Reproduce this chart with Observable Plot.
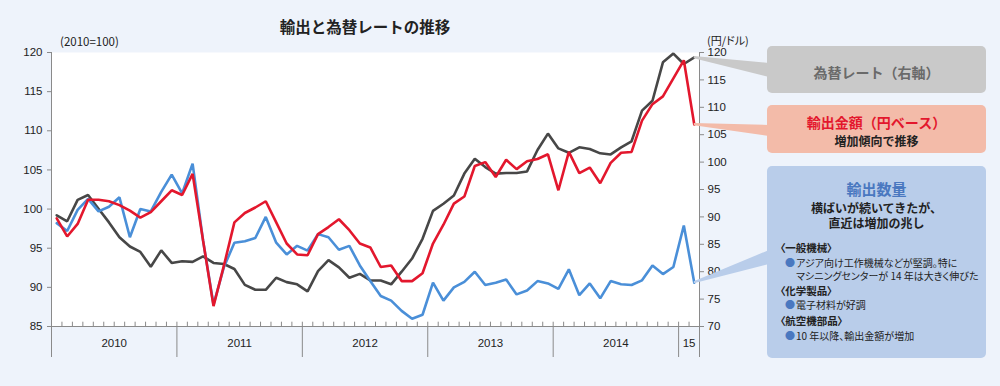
<!DOCTYPE html>
<html>
<head>
<meta charset="utf-8">
<script src="https://cdn.jsdelivr.net/npm/d3@7"></script>
<script src="https://cdn.jsdelivr.net/npm/@observablehq/plot@0.6"></script>
<style>
  html, body { margin: 0; padding: 0; background: #eef3fb; }
  #wrap { position: relative; width: 1000px; height: 386px; overflow: hidden; background: #eef3fb;
          font-family: "Noto Sans CJK JP", "Liberation Sans", sans-serif; color: #222; }
  #wrap > svg { position: absolute; left: 0; top: 0; }
  .t { position: absolute; white-space: nowrap; line-height: 1; }
  .box { position: absolute; border-radius: 5px; }
</style>
</head>
<body>
<div id="wrap"></div>
<script>
// ---- data ----
const months = [
  "2010-01","2010-02","2010-03","2010-04","2010-05","2010-06","2010-07","2010-08","2010-09","2010-10","2010-11","2010-12",
  "2011-01","2011-02","2011-03","2011-04","2011-05","2011-06","2011-07","2011-08","2011-09","2011-10","2011-11","2011-12",
  "2012-01","2012-02","2012-03","2012-04","2012-05","2012-06","2012-07","2012-08","2012-09","2012-10","2012-11","2012-12",
  "2013-01","2013-02","2013-03","2013-04","2013-05","2013-06","2013-07","2013-08","2013-09","2013-10","2013-11","2013-12",
  "2014-01","2014-02","2014-03","2014-04","2014-05","2014-06","2014-07","2014-08","2014-09","2014-10","2014-11","2014-12",
  "2015-01","2015-02"
];
// 輸出数量 (2010=100, left axis)
const exportVolume = [
  98.2, 97.2, 99.9, 101.3, 99.7, 100.3, 101.5, 96.4, 100.0, 99.7, 102.2, 104.4,
  102.0, 105.8, 96.0, 87.8, 92.6, 95.7, 95.9, 96.3, 99.0, 95.7, 94.2, 95.3,
  94.7, 96.8, 96.4, 94.8, 95.3, 92.8, 90.8, 88.9, 88.3, 87.0, 86.0, 86.5,
  90.6, 88.3, 90.0, 90.7, 92.0, 90.3, 90.6, 91.0, 89.1, 89.6, 90.8, 90.5,
  89.8, 92.3, 89.0, 90.5, 88.6, 90.8, 90.4, 90.3, 90.9, 92.8, 91.7, 92.6,
  97.9, 90.6
];
// 輸出金額（円ベース） (2010=100, left axis)
const exportValue = [
  98.8, 96.5, 98.1, 101.2, 101.2, 101.0, 100.5, 99.8, 98.9, 99.6, 101.0, 102.4,
  101.8, 104.5, 96.0, 87.6, 92.8, 98.3, 99.5, 100.2, 101.0, 98.3, 95.6, 94.2,
  94.1, 96.8, 97.7, 98.7, 97.3, 95.6, 95.1, 92.6, 92.8, 90.8, 90.8, 91.8,
  95.6, 98.0, 100.7, 101.6, 105.5, 106.0, 104.1, 106.3, 105.1, 106.1, 106.4, 107.0,
  102.4, 107.3, 104.6, 105.3, 103.3, 105.9, 107.2, 107.3, 111.3, 113.4, 114.4, 116.7,
  119.0, 110.8
];
// 為替レート (円/ドル, right axis)
const fxRate = [
  90.3, 89.2, 93.1, 94.0, 91.5, 89.0, 86.3, 84.6, 83.6, 80.9, 83.9, 81.6,
  81.9, 81.8, 82.8, 81.6, 81.4, 80.5, 77.6, 76.7, 76.7, 78.9, 78.1, 77.7,
  76.4, 80.1, 82.1, 80.8, 78.9, 79.6, 78.4, 78.4, 77.7, 80.0, 82.4, 86.0,
  91.1, 92.4, 93.9, 97.9, 100.6, 99.1, 97.9, 98.0, 98.0, 98.3, 102.2, 105.2,
  102.5, 101.7, 102.7, 102.4, 101.6, 101.4, 102.7, 103.8, 109.4, 111.2, 118.2, 119.8,
  117.9, 119.1
];
const yearLabels = ["2010", "2011", "2012", "2013", "2014", "15"];
const yearStarts = [0, 12, 24, 36, 48, 60];
const leftTicks = [85, 90, 95, 100, 105, 110, 115, 120];
const rightTicks = [70, 75, 80, 85, 90, 95, 100, 105, 110, 115, 120];

// right axis (70–120) mapped onto left scale (85–120)
const toLeft = r => 85 + (r - 70) * 0.7;
const toRight = v => (v - 85) / 0.7 + 70;

const rows = months.map((m, i) => ({i: i + 0.5, month: m, vol: exportVolume[i], val: exportValue[i], fx: fxRate[i]}));
const nMonths = months.length;
const yearBounds = [...yearStarts, nMonths];
const yearCenters = yearStarts.map((s, k) => (s + yearBounds[k + 1]) / 2);
const monthTicks = d3.range(1, nMonths);

const axisGray = "#8a8a8a";
const cBlue = "#4a8fd8", cRed = "#e3172d", cBlack = "#474747";

const plot = Plot.plot({
  width: 1000, height: 386,
  marginLeft: 51, marginRight: 301, marginTop: 52, marginBottom: 60,
  style: {background: "transparent", fontFamily: "'Liberation Sans', Arial, sans-serif", fontSize: "11.5px", color: "#222", overflow: "visible"},
  x: {domain: [0, nMonths], label: null},
  y: {domain: [85, 120], label: null},
  marks: [
    Plot.frame({fill: "white", stroke: null}),
    Plot.ruleX(monthTicks, {x: d => d, y1: 85, y2: 85.55, stroke: axisGray}),
    Plot.axisX(yearBounds, {tickSize: 31, tickFormat: () => "", stroke: axisGray, label: null}),
    Plot.axisX(yearCenters, {tickSize: 0, tickPadding: 12, tickFormat: d => yearLabels[yearCenters.indexOf(d)], fill: "#222", label: null}),
    Plot.axisY(leftTicks, {anchor: "left", tickSize: 4, tickPadding: 5, stroke: axisGray, fill: "#222", label: null}),
    Plot.axisY(rightTicks.map(toLeft), {anchor: "right", tickSize: 4, tickPadding: 4, tickFormat: d => String(Math.round(toRight(d))), stroke: axisGray, fill: "#222", label: null}),
    Plot.ruleX([0, nMonths], {stroke: axisGray}),
    Plot.ruleY([85], {stroke: axisGray}),
    Plot.line(rows, {x: "i", y: d => toLeft(d.fx), stroke: cBlack, strokeWidth: 2.6, strokeLinejoin: "miter"}),
    Plot.line(rows, {x: "i", y: "vol", stroke: cBlue, strokeWidth: 2.6, strokeLinejoin: "miter"}),
    Plot.line(rows, {x: "i", y: "val", stroke: cRed, strokeWidth: 2.6, strokeLinejoin: "miter"})
  ]
});

const wrap = document.getElementById("wrap");
wrap.appendChild(plot);

// ---- callouts ----
const xs = plot.scale("x"), ys = plot.scale("y");
const last = rows[rows.length - 1];
const tipX = xs.apply(last.i);
const boxX = 767, boxW = 219;

const ns = "http://www.w3.org/2000/svg";
const over = document.createElementNS(ns, "svg");
over.setAttribute("width", 1000); over.setAttribute("height", 386);
wrap.appendChild(over);
function wedge(ty, b1, b2, fill) {
  const p = document.createElementNS(ns, "polygon");
  p.setAttribute("points", `${tipX},${ty - 1} ${boxX + 2},${b1} ${boxX + 2},${b2} ${tipX},${ty + 1.2}`);
  p.setAttribute("fill", fill);
  over.appendChild(p);
}
const cGrayBox = "#c9c9c9", cPinkBox = "#f3bba9", cBlueBox = "#b9cdea";
wedge(ys.apply(toLeft(last.fx)), 63, 77, cGrayBox);
wedge(ys.apply(last.val), 125, 136, cPinkBox);
wedge(ys.apply(last.vol), 250, 264, cBlueBox);

function box(top, h, bg) {
  const d = document.createElement("div");
  d.className = "box";
  Object.assign(d.style, {left: boxX + "px", top: top + "px", width: boxW + "px", height: h + "px", background: bg});
  wrap.appendChild(d);
}
box(46, 47, cGrayBox);
box(105, 48, cPinkBox);
box(166, 192, cBlueBox);

function text(str, {x, cy, size, weight = "normal", color = "#222", anchor = "start", palt = false}) {
  const d = document.createElement("div");
  d.className = "t";
  d.textContent = str;
  Object.assign(d.style, {top: (cy - size / 2) + "px", fontSize: size + "px", fontWeight: weight, color});
  if (palt) d.style.fontFeatureSettings = '"palt"';
  if (anchor === "middle") { d.style.left = (x - 300) + "px"; d.style.width = "600px"; d.style.textAlign = "center"; }
  else d.style.left = x + "px";
  wrap.appendChild(d);
}
const cx = boxX + boxW / 2;
text("輸出と為替レートの推移", {x: 365, cy: 27, size: 15.5, weight: "bold", anchor: "middle"});
text("(2010=100)", {x: 60, cy: 42, size: 11.5, palt: true});
text("(円/ドル)", {x: 707, cy: 40, size: 11, palt: true});

text("為替レート（右軸）", {x: cx, cy: 71.5, size: 14, weight: "bold", color: "#6a6a6a", anchor: "middle"});
text("輸出金額（円ベース）", {x: cx, cy: 121.5, size: 14, weight: "bold", color: cRed, anchor: "middle"});
text("増加傾向で推移", {x: cx, cy: 141, size: 12, weight: "bold", anchor: "middle"});

text("輸出数量", {x: cx, cy: 188, size: 15, weight: "bold", color: "#4a78c0", anchor: "middle"});
text("横ばいが続いてきたが、", {x: cx, cy: 208, size: 12, weight: "bold", anchor: "middle"});
text("直近は増加の兆し", {x: cx, cy: 223, size: 12, weight: "bold", anchor: "middle"});

const cBullet = "#4a78c0";
function item(str, cy) {
  text("●", {x: 785, cy, size: 10, color: cBullet});
  text(str, {x: 796, cy, size: 10, palt: true});
}
text("〈一般機械〉", {x: 780, cy: 248.5, size: 10.5, weight: "bold", palt: true});
item("アジア向け工作機械などが堅調。特に", 262.5);
text("マシニングセンターが 14 年は大きく伸びた", {x: 796, cy: 276, size: 10, palt: true});
text("〈化学製品〉", {x: 780, cy: 291, size: 10.5, weight: "bold", palt: true});
item("電子材料が好調", 305);
text("〈航空機部品〉", {x: 780, cy: 321.5, size: 10.5, weight: "bold", palt: true});
item("10 年以降、輸出金額が増加", 335.5);
</script>
</body>
</html>
